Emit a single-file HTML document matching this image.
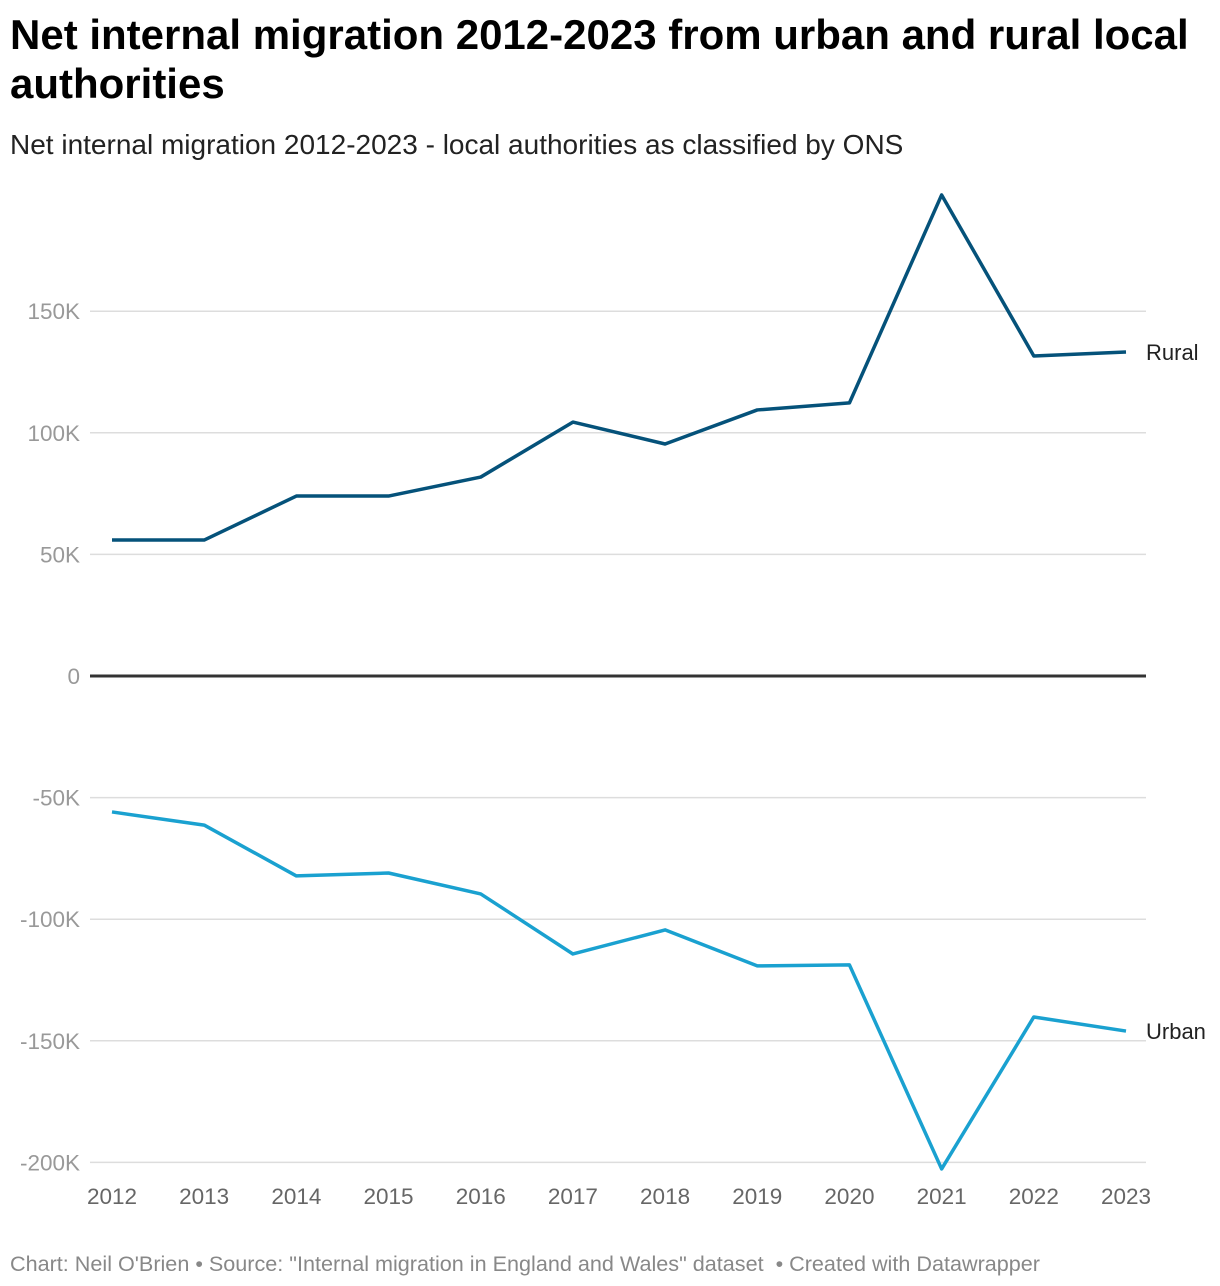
<!DOCTYPE html>
<html><head><meta charset="utf-8">
<style>
body{margin:0;background:#fff;font-family:"Liberation Sans",Arial,sans-serif;}
#wrap{position:relative;width:1220px;height:1286px;overflow:hidden;}
h1{position:absolute;left:10px;top:10px;margin:0;font-size:42px;line-height:49px;font-weight:bold;color:#000;width:1210px;}
.sub{position:absolute;left:10px;top:129px;font-size:28px;color:#222;}
.foot{position:absolute;left:10px;top:1251px;font-size:21.6px;color:#888;}
svg{position:absolute;left:0;top:0;}
</style></head><body>
<div id="wrap">
<h1>Net internal migration 2012-2023 from urban and rural local authorities</h1>
<div class="sub">Net internal migration 2012-2023 - local authorities as classified by ONS</div>
<svg id="chart" width="1220" height="1286"></svg>
<div class="foot">Chart: Neil O'Brien • Source: "Internal migration in England and Wales" dataset &nbsp;• Created with Datawrapper</div>
</div>
<script>
const years=[2012,2013,2014,2015,2016,2017,2018,2019,2020,2021,2022,2023];
const rural=[55.9,55.9,74,74,81.8,104.4,95.4,109.4,112.3,197.8,131.6,133.2];
const urban=[-55.9,-61.3,-82.2,-81,-89.6,-114.3,-104.4,-119.2,-118.8,-202.7,-140.2,-146];
const yTicks=[150,100,50,0,-50,-100,-150,-200];
const yTickLabels=["150K","100K","50K","0","-50K","-100K","-150K","-200K"];
const NS="http://www.w3.org/2000/svg";
const svg=document.getElementById('chart');
function x(i){return 112+i*(1126-112)/(years.length-1);}
function y(v){return 676-v*121.6/50;}
function mk(t,a){const e=document.createElementNS(NS,t);for(const k in a)e.setAttribute(k,a[k]);svg.appendChild(e);return e;}
yTicks.forEach((v,i)=>{
  if(v!==0){const l=mk('line',{x1:90,x2:1146,y1:y(v),y2:y(v),stroke:'#ddd','stroke-width':1.5});
  
  }
  const t=mk('text',{x:80,y:y(v)+8,'text-anchor':'end','font-size':22.5,fill:'#999'});
  t.textContent=yTickLabels[i];
  
  
});
const z=mk('line',{x1:90,x2:1146,y1:y(0),y2:y(0),stroke:'#333','stroke-width':3});


years.forEach((yr,i)=>{
  const t=mk('text',{x:x(i),y:1204,'text-anchor':'middle','font-size':22.5,fill:'#666'});
  t.textContent=yr;
  
  
});
function line(data,color,name,label){
  const p=mk('polyline',{points:data.map((v,i)=>x(i)+','+y(v)).join(' '),fill:'none',stroke:color,'stroke-width':3.5,'stroke-linejoin':'round'});
  
  
  const t=mk('text',{x:1146,y:y(data[data.length-1])+8,'font-size':22,fill:'#222'});
  t.textContent=label;
  
  
}
line(rural,'#05527a','rural','Rural');
line(urban,'#1aa1d0','urban','Urban');
</script>
</body></html>
